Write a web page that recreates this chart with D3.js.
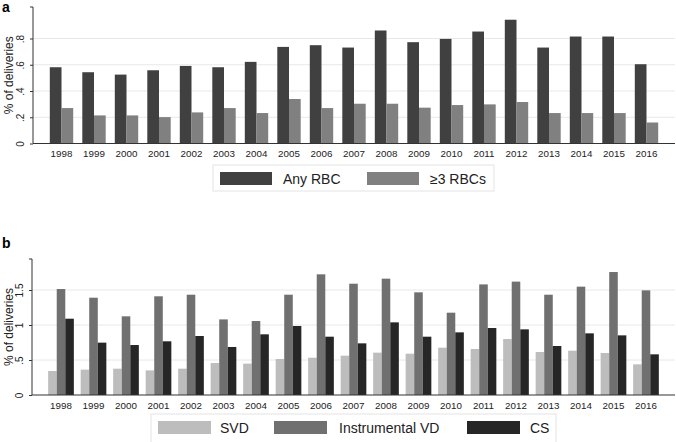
<!DOCTYPE html>
<html><head><meta charset="utf-8">
<script src="https://cdn.jsdelivr.net/npm/d3@7"></script>
<style>body{margin:0;background:#fff}svg{display:block}text{font-family:"Liberation Sans",Arial,sans-serif}</style>
</head><body>
<script>
const years = ["1998","1999","2000","2001","2002","2003","2004","2005","2006","2007","2008","2009","2010","2011","2012","2013","2014","2015","2016"];
const anyRBC = [0.581,0.543,0.525,0.558,0.591,0.581,0.622,0.736,0.749,0.731,0.861,0.772,0.797,0.853,0.943,0.731,0.815,0.815,0.604];
const threeRBC = [0.27,0.214,0.214,0.201,0.237,0.27,0.232,0.339,0.27,0.303,0.303,0.273,0.293,0.298,0.316,0.232,0.232,0.232,0.16];
const svd = [0.343,0.362,0.376,0.352,0.376,0.457,0.448,0.514,0.533,0.562,0.605,0.59,0.676,0.657,0.8,0.614,0.633,0.6,0.438];
const instrVD = [1.514,1.39,1.124,1.41,1.433,1.08,1.057,1.433,1.724,1.59,1.662,1.467,1.176,1.58,1.62,1.433,1.548,1.757,1.495];
const cs = [1.09,0.748,0.714,0.767,0.843,0.686,0.867,0.986,0.833,0.738,1.038,0.833,0.895,0.957,0.938,0.7,0.881,0.852,0.581];
const ticksA = [0,0.2,0.4,0.6,0.8];
const tickLabelsA = ["0",".2",".4",".6",".8"];
const ticksB = [0,0.5,1,1.5];
const tickLabelsB = ["0",".5","1","1.5"];
const seriesA = [{name:"Any RBC", values:anyRBC, color:"#404040"},{name:"\u22653 RBCs", values:threeRBC, color:"#808080"}];
const seriesB = [{name:"SVD", values:svd, color:"#bdbdbd"},{name:"Instrumental VD", values:instrVD, color:"#707070"},{name:"CS", values:cs, color:"#262626"}];

const svg = d3.select("body").append("svg").attr("width",676).attr("height",442);

function panel(cfg){
  const g = svg.append("g");
  const x = d3.scaleBand().domain(years).range([cfg.x0, cfg.x1]).paddingInner(cfg.pi).paddingOuter(cfg.po);
  const sub = d3.scaleBand().domain(cfg.series.map(s=>s.name)).range([0, x.bandwidth()]);
  const y = d3.scaleLinear().domain([0, cfg.ymax]).range([cfg.yb, cfg.yt]);
  g.append("g").selectAll("line").data(cfg.ticks.filter(t=>t>0)).join("line")
    .attr("x1", cfg.x0).attr("x2", cfg.x1).attr("y1", d=>y(d)).attr("y2", d=>y(d))
    .attr("stroke","#e8e8e8").attr("stroke-width",1);
  cfg.series.forEach(s=>{
    g.append("g").selectAll("rect").data(s.values).join("rect")
      .attr("x",(d,i)=>x(years[i])+sub(s.name)).attr("width",sub.bandwidth())
      .attr("y",d=>y(d)).attr("height",d=>y(0)-y(d)).attr("fill",s.color);
  });
  const ya = d3.axisLeft(y).tickValues(cfg.ticks).tickFormat((d,i)=>cfg.tickLabels[i]).tickSize(3).tickPadding(2);
  const yg = g.append("g").attr("transform",`translate(${cfg.x0},0)`).call(ya);
  yg.select(".domain").attr("stroke","#333").attr("d",`M-3,${cfg.yt}H0V${cfg.yb}`);
  yg.selectAll(".tick line").attr("stroke","#333");
  yg.selectAll(".tick text").attr("text-anchor","middle").attr("dy",null).attr("x",null).attr("y",0)
    .attr("transform","translate(-9,0) rotate(-90)")
    .attr("font-size","10px").attr("fill","#222");
  const xa = d3.axisBottom(x).tickSize(0).tickPadding(7);
  const xg = g.append("g").attr("transform",`translate(0,${cfg.yb})`).call(xa);
  xg.select(".domain").attr("stroke","#333").attr("d",`M${cfg.x0},0H${cfg.x1}`);
  xg.selectAll(".tick text").attr("font-size","9.8px").attr("fill","#222");
  g.append("text").attr("transform",`translate(13,${(cfg.yt+cfg.yb)/2}) rotate(-90)`)
    .attr("text-anchor","middle").attr("font-size","12px").attr("fill","#222").text("% of deliveries");
  g.append("text").attr("x",2).attr("y",cfg.letterY).attr("font-size","14px").attr("font-weight","bold").text(cfg.letter);
  const lg = g.append("g");
  lg.append("rect").attr("x",cfg.leg.x0).attr("y",cfg.leg.y0).attr("width",cfg.leg.x1-cfg.leg.x0).attr("height",cfg.leg.y1-cfg.leg.y0)
    .attr("fill","#fff").attr("stroke","#e4e4e4");
  cfg.series.forEach((s,i)=>{
    lg.append("rect").attr("x",cfg.leg.sw[i]).attr("y",cfg.leg.sy).attr("width",cfg.leg.swW).attr("height",13).attr("fill",s.color);
    lg.append("text").attr("x",cfg.leg.tx[i]).attr("y",cfg.leg.sy+11.5).attr("font-size","14px").attr("fill","#222").text(s.name);
  });
}

panel({series:seriesA, x0:33, x1:675, pi:0.28, po:0.517, ymax:1.04, yb:143.5, yt:7, ticks:ticksA, tickLabels:tickLabelsA,
  letter:"a", letterY:12,
  leg:{x0:213,x1:494,y0:165,y1:191,sy:172,swW:52,sw:[220,367],tx:[283,430]}});
panel({series:seriesB, x0:32, x1:675, pi:0.21, po:0.4975, ymax:1.943, yb:395, yt:259, ticks:ticksB, tickLabels:tickLabelsB,
  letter:"b", letterY:248,
  leg:{x0:151,x1:556,y0:414,y1:450,sy:421,swW:53,sw:[158,274,467],tx:[220,339,530]}});
</script>
</body></html>
